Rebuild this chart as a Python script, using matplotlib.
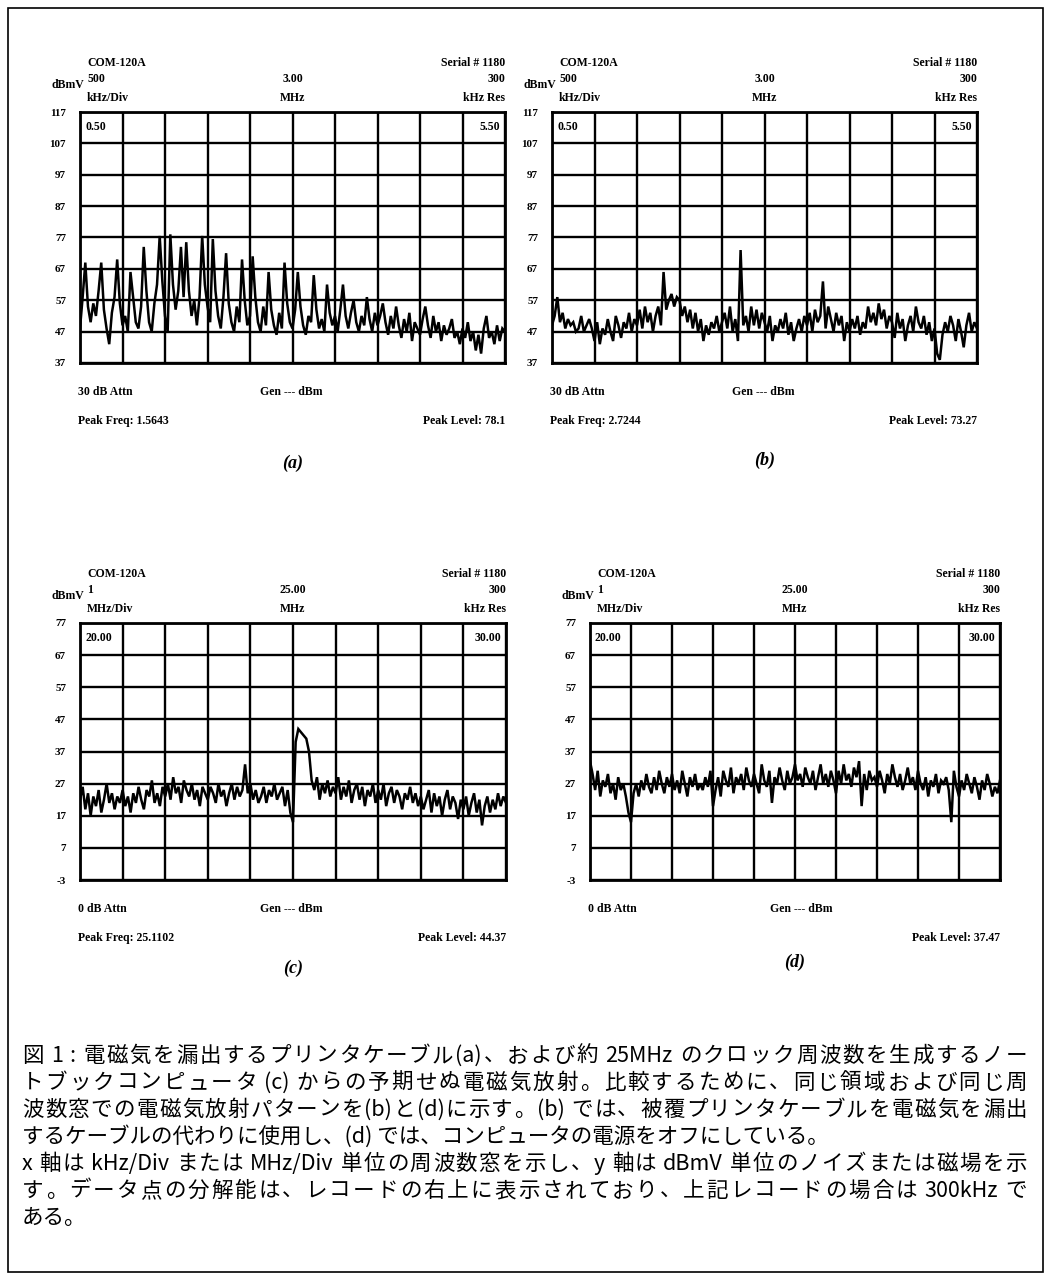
import re
import numpy as np
import matplotlib
matplotlib.use('Agg')
import matplotlib.pyplot as plt
from matplotlib.patches import Rectangle

W, H = 1051, 1284

# sweep levels in dBuV, 16 readings per division (161 per sweep)
level_a = [48, 58, 69, 55, 50, 56, 52, 60, 69, 54, 48, 43, 53, 58, 70, 56,
           49, 52, 47, 66, 58, 50, 48, 55, 74, 60, 50, 47, 56, 62, 77.5, 63,
           52, 47, 78, 62, 54, 60, 74, 58, 75.5, 60, 52, 57, 49, 58, 77.5, 62,
           55, 50, 76.5, 60, 52, 48, 58, 72, 56, 50, 47, 55, 50, 70, 57, 49,
           52, 71, 58, 50, 47, 55, 49, 66, 54, 49, 46, 53, 48, 69, 56, 50,
           48, 54, 66, 55, 49, 46, 52, 50, 65, 54, 48, 51, 47, 62, 53, 49,
           52, 47, 54, 62, 52, 48, 53, 57, 50, 47, 52, 49, 58, 51, 47, 53,
           49, 52, 56, 50, 46, 52, 48, 55, 49, 45, 51, 47, 53, 44, 50, 48,
           46, 51, 55, 49, 45, 52, 47, 50, 44, 49, 46, 48, 51, 45, 47, 43,
           48, 45, 50, 44, 47, 41, 46, 40, 48, 52, 45, 47, 43, 49, 44, 48, 47]

level_b = [49, 52, 58, 50, 53, 48, 51, 49, 50, 47, 48, 52, 47, 49, 51, 48,
           44, 50, 43, 48, 46, 51, 47, 44, 52, 49, 45, 50, 48, 53, 47, 51,
           49, 54, 48, 55, 50, 53, 47, 52, 55, 49, 66, 54, 57, 59, 55, 58,
           57, 52, 55, 50, 54, 48, 53, 47, 51, 44, 49, 46, 50, 48, 52, 47,
           50, 53, 48, 55, 47, 51, 44, 73, 49, 52, 47, 55, 49, 54, 48, 53,
           50, 47, 52, 44, 49, 47, 51, 48, 53, 46, 50, 44, 48, 51, 47, 52,
           49, 53, 47, 54, 50, 52, 63, 48, 55, 51, 47, 53, 49, 52, 44, 50,
           47, 51, 48, 52, 46, 50, 48, 55, 50, 53, 49, 56, 51, 54, 48, 52,
           50, 45, 53, 48, 51, 44, 49, 52, 47, 55, 50, 48, 52, 46, 50, 44,
           48, 40, 38, 46, 50, 47, 52, 49, 44, 51, 47, 42, 49, 53, 47, 50, 48]

level_c = [22, 26, 19, 24, 17, 23, 20, 25, 18, 22, 27, 21, 24, 19, 23, 21,
           25, 20, 23, 18, 24, 21, 26, 22, 19, 25, 23, 28, 21, 24, 20, 26,
           23, 27, 22, 29, 24, 26, 21, 28, 25, 23, 27, 22, 25, 20, 26, 24,
           22, 26, 24, 21, 27, 23, 25, 20, 24, 27, 22, 26, 23, 25, 33, 24,
           27, 22, 25, 21, 23, 26, 21, 25, 23, 27, 22, 24, 26, 20, 25, 18,
           15, 40, 44, 43, 42, 41, 37, 28, 25, 29, 22, 27, 24, 28, 23, 26,
           24, 29, 22, 26, 23, 28, 21, 25, 27, 22, 26, 20, 25, 23, 27, 21,
           25, 22, 27, 20, 24, 26, 21, 25, 23, 19, 24, 22, 26, 21, 24, 20,
           23, 19, 22, 25, 18, 24, 20, 23, 17, 22, 25, 19, 23, 21, 16, 22,
           19, 23, 17, 21, 24, 18, 22, 14, 20, 23, 18, 22, 19, 24, 20, 23, 21]

level_d = [34, 30, 25, 31, 23, 28, 26, 30, 24, 27, 22, 29, 25, 27, 23, 18,
           15, 24, 27, 23, 28, 25, 30, 26, 24, 29, 25, 31, 27, 24, 29, 26,
           30, 25, 28, 24, 31, 27, 23, 29, 26, 30, 25, 27, 25, 29, 26, 31,
           20, 25, 29, 23, 31, 28, 26, 32, 24, 29, 27, 30, 25, 32, 28, 26,
           30, 27, 24, 33, 28, 26, 31, 21, 29, 27, 32, 28, 25, 31, 27, 29,
           33, 28, 30, 26, 32, 29, 27, 31, 25, 29, 33, 27, 30, 26, 31, 28,
           24, 31, 27, 33, 28, 30, 26, 32, 29, 34, 20, 30, 25, 31, 28, 29,
           26, 31, 28, 24, 30, 27, 33, 29, 26, 30, 25, 28, 32, 27, 29, 25,
           31, 27, 25, 29, 23, 28, 26, 30, 24, 28, 27, 29, 25, 15, 31, 26,
           23, 28, 25, 30, 27, 24, 29, 26, 22, 28, 25, 30, 27, 23, 26, 24, 28]

levels = [level_a, level_b, level_c, level_d]
ylabels_ab = [117, 107, 97, 87, 77, 67, 57, 47, 37]
ylabels_cd = [77, 67, 57, 47, 37, 27, 17, 7, -3]
start_mhz = [0.5, 0.5, 20.0, 20.0]
stop_mhz = [5.5, 5.5, 30.0, 30.0]
start_txt = ['0.50', '0.50', '20.00', '20.00']
stop_txt = ['5.50', '5.50', '30.00', '30.00']
center_txt = ['3.00', '3.00', '25.00', '25.00']
div_val = ['500', '500', '1', '1']
div_unit = ['kHz/Div', 'kHz/Div', 'MHz/Div', 'MHz/Div']
attn_txt = ['30 dB Attn', '30 dB Attn', '0 dB Attn', '0 dB Attn']
peak_freq = ['Peak Freq: 1.5643', 'Peak Freq: 2.7244', 'Peak Freq: 25.1102', '']
peak_level = ['Peak Level: 78.1', 'Peak Level: 73.27', 'Peak Level: 44.37', 'Peak Level: 37.47']
letters = ['(a)', '(b)', '(c)', '(d)']

caption = [
    '図 1 : 電磁気を漏出するプリンタケーブル(a)、および約 25MHz のクロック周波数を生成するノー',
    'トブックコンピュータ (c) からの予期せぬ電磁気放射。比較するために、同じ領域および同じ周',
    '波数窓での電磁気放射パターンを(b)と(d)に示す。(b) では、被覆プリンタケーブルを電磁気を漏出',
    'するケーブルの代わりに使用し、(d) では、コンピュータの電源をオフにしている。',
    'x 軸は kHz/Div または MHz/Div 単位の周波数窓を示し、y 軸は dBmV 単位のノイズまたは磁場を示',
    'す。データ点の分解能は、レコードの右上に表示されており、上記レコードの場合は 300kHz で',
    'ある。',
]
justify = [True, True, True, False, True, True, False]

# pixel boxes (left, top, right, bottom) and y of the panel letter
boxes = [(80, 112, 505, 363), (552, 112, 977, 363),
         (80, 623, 506, 880), (590, 623, 1000, 880)]
letter_y = [463, 460, 968, 962]

fig = plt.figure(figsize=(W / 100, H / 100), dpi=100)
fig.patch.set_facecolor('white')

def fx(x):
    return x / W

def fy(y):
    return 1 - y / H

mono = dict(family='Liberation Serif', weight='bold', fontsize=8.5, color='black')

def put(x, y, s, ha='left', **kw):
    opts = dict(mono)
    opts.update(kw)
    fig.text(fx(x), fy(y), s, ha=ha, va='center', **opts)

for i in range(4):
    L, T, R, B = boxes[i]
    ax = fig.add_axes([fx(L), fy(B), (R - L) / W, (B - T) / H])
    f = np.linspace(start_mhz[i], stop_mhz[i], len(levels[i]))
    ax.plot(f, levels[i], color='black', lw=1.8, solid_joinstyle='miter')
    ylab = ylabels_ab if i < 2 else ylabels_cd
    ax.set_xlim(start_mhz[i], stop_mhz[i])
    ax.set_ylim(ylab[-1], ylab[0])
    ax.set_xticks(np.linspace(start_mhz[i], stop_mhz[i], 11))
    ax.set_xticklabels([])
    ax.set_yticks(ylab)
    ax.set_yticklabels([str(v) for v in ylab], fontfamily='Liberation Serif',
                       fontweight='bold', fontsize=8)
    ax.tick_params(length=0, pad=10)
    ax.grid(True, color='black', lw=1.7)
    for sp in ax.spines.values():
        sp.set_linewidth(2)

    cx = (L + R) / 2
    put(L + 7, T - 49, 'COM-120A')
    put(R, T - 49, 'Serial # 1180', ha='right')
    put(L - 28, T - 27, 'dBmV')
    put(L + 7, T - 33, div_val[i])
    put(L + 7, T - 14, div_unit[i])
    put(cx, T - 33, center_txt[i], ha='center')
    put(cx, T - 14, 'MHz', ha='center')
    put(R, T - 33, '300', ha='right')
    put(R, T - 14, 'kHz Res', ha='right')
    put(L + 5, T + 15, start_txt[i])
    put(R - 5, T + 15, stop_txt[i], ha='right')
    put(L - 2, B + 29, attn_txt[i])
    put(L + 180, B + 29, 'Gen --- dBm')
    put(L - 2, B + 58, peak_freq[i])
    put(R, B + 58, peak_level[i], ha='right')
    put(cx, letter_y[i], letters[i], ha='center', fontsize=13, style='italic')

# caption, justified like the printed text
cap_fs = 15.5
cap_font = dict(fontsize=cap_fs, style='italic', family=['Noto Sans CJK JP', 'DejaVu Sans'])
renderer = fig.canvas.get_renderer()
left_px, right_px = 22, 1027
space_px = 0.25 * cap_fs * 100 / 72
for k, line in enumerate(caption):
    ybase = fy(1062 + 27 * k)
    if not justify[k]:
        fig.text(fx(left_px), ybase, line, ha='left', va='baseline', **cap_font)
        continue
    tokens = re.findall(r'[\x21-\x7e]+| |[^\x00-\x7f]', line)
    items = []
    pad = 0.0
    for tok in tokens:
        if tok == ' ':
            pad += space_px
            continue
        t = fig.text(0, ybase, tok, ha='left', va='baseline', **cap_font)
        items.append((t, t.get_window_extent(renderer).width, pad))
        pad = 0.0
    total = sum(w + p for _, w, p in items)
    gap = (right_px - left_px - total) / (len(items) - 1)
    x = left_px
    for j, (t, w, p) in enumerate(items):
        x += p
        t.set_x(fx(x))
        x += w + gap

fig.patches.append(Rectangle((fx(8), fy(1272)), fx(1043) - fx(8), fy(8) - fy(1272),
                             transform=fig.transFigure, fill=False, lw=1.2, color='black'))

fig.savefig('out.png', dpi=100)
